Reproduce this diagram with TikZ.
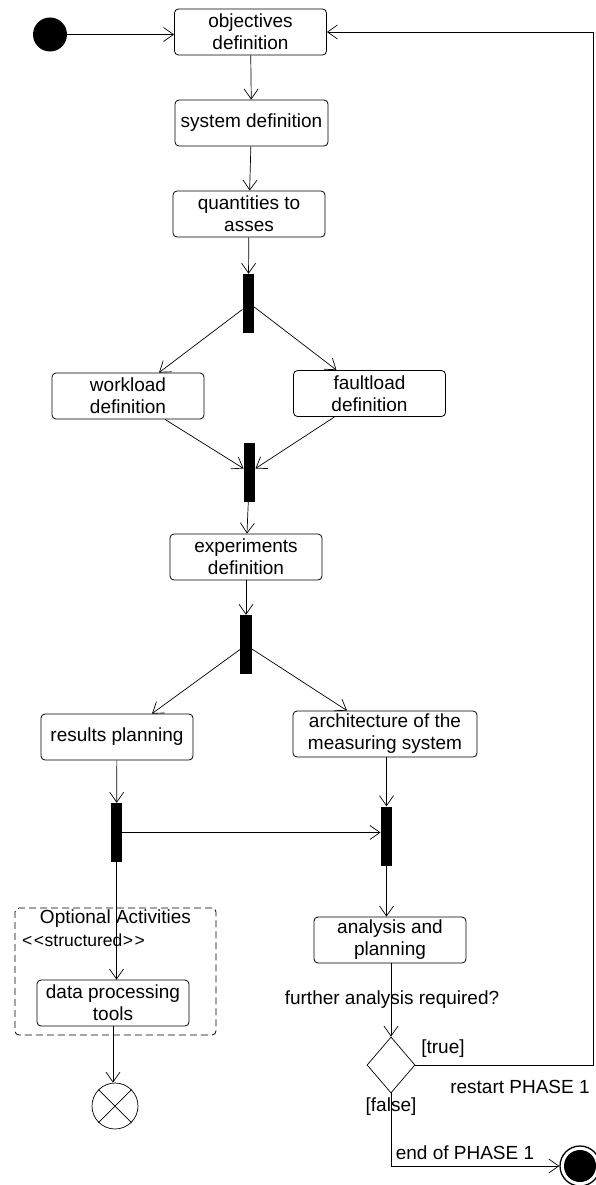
\documentclass[tikz,border=0pt]{standalone}
\usepackage{fontspec}
\setmainfont{Liberation Sans}
\usetikzlibrary{arrows.meta,shapes.geometric,calc}
\begin{document}
\begin{tikzpicture}[x=1pt,y=-1pt,
  every node/.style={font=\fontsize{19}{22}\selectfont},
  act/.style={draw, rounded corners=4pt, align=center, minimum height=46pt,
    minimum width=152pt, inner sep=1pt, line width=0.8pt},
  bar/.style={fill=black, minimum width=11.5pt, minimum height=59pt, inner sep=0pt},
  flow/.style={draw, line width=0.7pt,
    -{Straight Barb[length=10pt,width=14pt,line width=0.7pt]}},
  lbl/.style={inner sep=0pt},
]
\useasboundingbox (0,0) rectangle (595,1185);

% activities, bars and pseudo-states
\node[circle, fill=black, minimum size=34pt, inner sep=0pt] (start) at (50,34.5) {};
\node[act] (obj) at (250.5,32) {objectives\\definition};
\node[act, minimum width=153pt] (sys) at (251.5,123) {system definition};
\node[act] (qty) at (249,214) {quantities to\\asses};
\node[bar] (f1) at (248.3,303.5) {};
\node[act] (wl) at (128,396) {workload\\definition};
\node[act] (fl) at (369.5,393.5) {faultload\\definition};
\node[bar] (j1) at (249.5,472.5) {};
\node[act] (exp) at (246,557) {experiments\\definition};
\node[bar] (f2) at (246,644.5) {};
\node[act] (res) at (117,737) {results planning};
\node[act, minimum width=184pt] (arch) at (385,734) {architecture of the\\measuring system};
\node[bar] (b4) at (116.5,832.5) {};
\node[bar] (b5) at (386.5,836) {};
\node[act] (ana) at (390,940) {analysis and\\planning};

% structured region
\node[draw, dashed, dash pattern=on 7pt off 4pt, rounded corners=4pt, line width=0.8pt,
  minimum width=201pt, minimum height=127pt, inner sep=0pt] (opt) at (115.5,971.5) {};
\node[lbl] (optt) at (115.5,919) {Optional Activities};
\node[lbl, anchor=west, font=\fontsize{17.5}{20}\selectfont] (opts) at (22,940)
  {<\kern1.5pt<\kern0.5pt structured\kern0.5pt>\kern1.5pt>};
\node[act] (dp) at (113,1003) {data processing\\tools};

\node[circle, draw, minimum size=46pt, inner sep=0pt, line width=0.7pt] (ff) at (115,1106) {};
\draw[line width=0.7pt] (ff.45) -- (ff.225) (ff.135) -- (ff.-45);

\node[diamond, draw, minimum width=48pt, minimum height=56pt, inner sep=0pt, line width=0.7pt] (dec) at (391,1065) {};
\node[circle, draw, minimum size=40pt, inner sep=0pt, line width=1.3pt] (endo) at (580,1166) {};
\node[circle, fill=black, minimum size=32pt, inner sep=0pt] (endi) at (580,1166) {};
\coordinate (rx) at (593,0);

% control flows
\draw[flow] (start) -- (start -| obj.west);
\draw[flow] (obj) -- (sys);
\draw[flow] (sys) -- (qty);
\draw[flow] (qty) -- (f1);
\draw[flow] ([yshift=-6pt]f1.west) -- ([xshift=31pt]wl.north);
\draw[flow] ([yshift=-3.5pt]f1.east) -- ([xshift=-33pt]fl.north);
\draw[flow] ([xshift=37pt]wl.south) -- ([yshift=4pt]j1.west);
\draw[flow] ([xshift=-35pt]fl.south) -- ([yshift=4pt]j1.east);
\draw[flow] (j1) -- (exp);
\draw[flow] (exp) -- (f2);
\draw[flow] ([yshift=-5pt]f2.west) -- ([xshift=35pt]res.north);
\draw[flow] ([yshift=-4.5pt]f2.east) -- ([xshift=-38pt]arch.north);
\draw[flow] (res) -- (b4);
\draw[flow] (arch.south -| b5) -- (b5);
\draw[flow] (b4.east) -- (b4.east -| b5.west);
\draw[flow] (b4.south) -- (b4.south |- dp.north);
\draw[flow] (dp.south) -- (dp.south |- ff.north);
\draw[flow] (b5.south) -- (b5.south |- ana.north);
\draw[flow] (ana.south -| dec) -- (dec.north);
\draw[flow] (dec.east) -- (dec.east -| rx) -- (rx |- obj.east) -- (obj.east);
\draw[flow] (dec.south) |- (endo.west);

% guards and flow labels
\node[lbl] (q) at (392,1000) {further analysis required?};
\node[lbl] (gt) at (443,1049) {[true]};
\node[lbl] (rs) at (520,1087) {restart PHASE 1};
\node[lbl] (gf) at (391,1107) {[false]};
\node[lbl] (ep) at (465,1153) {end of PHASE 1};
\end{tikzpicture}
\end{document}
